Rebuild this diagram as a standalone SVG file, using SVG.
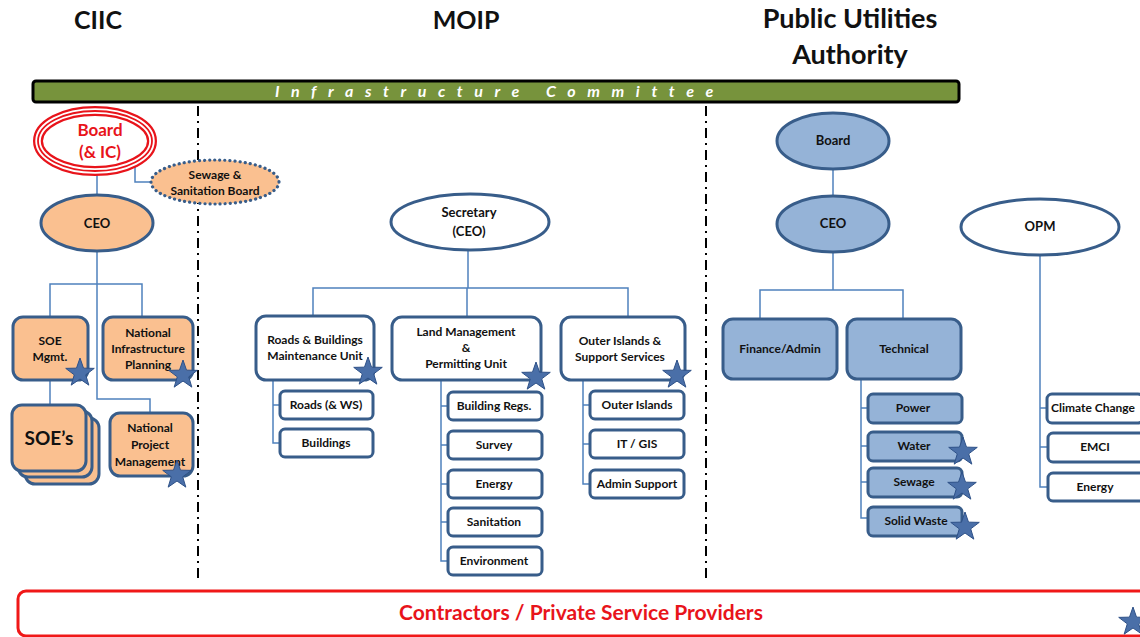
<svg xmlns="http://www.w3.org/2000/svg" width="1140" height="637" viewBox="0 0 1140 637">
<defs>
<style>
.t{font-family:Lato,"Liberation Sans",sans-serif;font-weight:bold;fill:#111;text-anchor:middle;}
.s12{font-size:12px;}
.s13{font-size:13px;}
.title{font-family:Lato,"Liberation Sans",sans-serif;font-weight:bold;font-size:25px;fill:#111;text-anchor:middle;}
.peach{fill:#FAC090;stroke:#385D8A;stroke-width:3;}
.blue{fill:#95B3D7;stroke:#385D8A;stroke-width:3;}
.white{fill:#fff;stroke:#385D8A;stroke-width:3;}
.conn{fill:none;stroke:#4F81BD;stroke-width:1.5;}
.div{fill:none;stroke:#000;stroke-width:2;stroke-dasharray:10 5 2 5;}
.star{fill:#4A6FA8;stroke:#2E5188;stroke-width:1;}
</style>
<polygon id="star" points="0,-15 3.53,-4.85 14.27,-4.64 5.71,1.85 8.82,12.14 0,6 -8.82,12.14 -5.71,1.85 -14.27,-4.64 -3.53,-4.85"/>
</defs>
<rect width="1140" height="637" fill="#fff"/>

<!-- titles -->
<text class="title" x="98" y="29">CIIC</text>
<text class="title" x="466" y="29">MOIP</text>
<text class="title" x="850" y="28" style="font-size:27px">Public Utilities</text>
<text class="title" x="850" y="64" style="font-size:27px">Authority</text>

<!-- committee bar -->
<g id="committee">
<rect x="33" y="81" width="926" height="21" rx="3" fill="#77933C" stroke="#000" stroke-width="3"/>
<text x="275" y="97" font-family="Lato,'Liberation Sans',sans-serif" font-weight="bold" font-style="italic" font-size="16" fill="#fff" letter-spacing="11.6">Infrastructure Committee</text>
</g>

<!-- dividers -->
<line class="div" x1="198" y1="106" x2="198" y2="580"/>
<line class="div" x1="706" y1="106" x2="706" y2="580"/>

<!-- connectors -->
<g id="connectors">
<path class="conn" d="M97,175 V195"/>
<path class="conn" d="M135,162 V182 H150"/>
<path class="conn" d="M97,252 V399 H150 V413"/>
<path class="conn" d="M50,317 V284 H142 V317"/>
<path class="conn" d="M50,380 V405"/>
<path class="conn" d="M468,250 V288"/>
<path class="conn" d="M313,316 V288 H628 V317"/>
<path class="conn" d="M467,288 V317"/>
<path class="conn" d="M273,380 V443 H280 M273,405 H280"/>
<path class="conn" d="M441,380 V561 H448 M441,406 H448 M441,445 H448 M441,484 H448 M441,522 H448"/>
<path class="conn" d="M583,380 V484 H590 M583,405 H590 M583,444 H590"/>
<path class="conn" d="M833,169 V196"/>
<path class="conn" d="M833,253 V290"/>
<path class="conn" d="M760,319 V290 H903 V319"/>
<path class="conn" d="M861,379 V518 H868 M861,408 H868 M861,446 H868 M861,482 H868"/>
<path class="conn" d="M1040,255 V487 H1047 M1040,408 H1047 M1040,447 H1047"/>
</g>

<!-- CIIC -->
<g id="ciic-board">
<ellipse cx="95" cy="141" rx="57" ry="30" fill="#fff" stroke="#E8141B" stroke-width="10"/>
<ellipse cx="95" cy="141" rx="57" ry="30" fill="none" stroke="#fff" stroke-width="5.5"/>
<ellipse cx="95" cy="141" rx="57" ry="30" fill="none" stroke="#E8141B" stroke-width="1.8"/>
<text class="t" x="100" y="136" font-size="17" style="fill:#E8141B">Board</text>
<text class="t" x="100" y="158" font-size="17" style="fill:#E8141B">(&amp; IC)</text>
</g>
<g id="sewage-board">
<ellipse cx="215" cy="182" rx="64" ry="22" fill="#FAC090" stroke="#385D8A" stroke-width="3.2" stroke-linecap="round" stroke-dasharray="0.1 5"/>
<text class="t s12" x="215" y="179">Sewage &amp;</text>
<text class="t s12" x="215" y="195">Sanitation Board</text>
</g>
<g id="ciic-ceo">
<ellipse class="peach" cx="97" cy="223" rx="56" ry="28"/>
<text class="t s13" x="97" y="228">CEO</text>
</g>
<g id="soe-mgmt">
<rect class="peach" x="13" y="317" width="75" height="63" rx="10"/>
<text class="t s12" x="50" y="345">SOE</text>
<text class="t s12" x="50" y="361">Mgmt.</text>
<use href="#star" class="star" x="80" y="373"/>
</g>
<g id="nip">
<rect class="peach" x="103" y="317" width="90" height="63" rx="10"/>
<text class="t s12" x="148" y="337">National</text>
<text class="t s12" x="148" y="353">Infrastructure</text>
<text class="t s12" x="148" y="369">Planning</text>
<use href="#star" class="star" x="183" y="375"/>
</g>
<g id="soes">
<rect class="peach" x="25" y="418" width="74" height="66" rx="10"/>
<rect class="peach" x="18" y="411" width="74" height="66" rx="10"/>
<rect class="peach" x="12" y="405" width="74" height="66" rx="10"/>
<text class="t" x="49" y="445" font-size="19">SOE’s</text>
</g>
<g id="npm">
<rect class="peach" x="110" y="413" width="83" height="63" rx="10"/>
<text class="t s12" x="150" y="432">National</text>
<text class="t s12" x="150" y="449">Project</text>
<text class="t s12" x="150" y="466">Management</text>
<use href="#star" class="star" x="177" y="475"/>
</g>

<!-- MOIP -->
<g id="secretary">
<ellipse class="white" cx="470" cy="222" rx="79" ry="28"/>
<text class="t s13" x="469" y="217">Secretary</text>
<text class="t s13" x="469" y="236">(CEO)</text>
</g>
<g id="roads-buildings">
<rect class="white" x="256" y="316" width="118" height="64" rx="10"/>
<text class="t s12" x="315" y="344">Roads &amp; Buildings</text>
<text class="t s12" x="315" y="360">Maintenance Unit</text>
<use href="#star" class="star" x="368" y="372"/>
</g>
<g id="land-mgmt">
<rect class="white" x="392" y="317" width="149" height="63" rx="10"/>
<text class="t s12" x="466" y="336">Land Management</text>
<text class="t s12" x="466" y="352">&amp;</text>
<text class="t s12" x="466" y="368">Permitting Unit</text>
<use href="#star" class="star" x="536" y="377"/>
</g>
<g id="outer-islands-ss">
<rect class="white" x="561" y="317" width="124" height="63" rx="10"/>
<text class="t s12" x="620" y="345">Outer Islands &amp;</text>
<text class="t s12" x="620" y="361">Support Services</text>
<use href="#star" class="star" x="677" y="375"/>
</g>
<g id="roads-ws"><rect class="white" x="280" y="391" width="93" height="28" rx="5"/><text class="t s12" x="326" y="409">Roads (&amp; WS)</text></g>
<g id="buildings"><rect class="white" x="280" y="429" width="93" height="28" rx="5"/><text class="t s12" x="326" y="447">Buildings</text></g>
<g id="building-regs"><rect class="white" x="448" y="392" width="94" height="28" rx="5"/><text class="t s12" x="494" y="410">Building Regs.</text></g>
<g id="survey"><rect class="white" x="448" y="431" width="94" height="28" rx="5"/><text class="t s12" x="494" y="449">Survey</text></g>
<g id="energy-moip"><rect class="white" x="448" y="470" width="94" height="28" rx="5"/><text class="t s12" x="494" y="488">Energy</text></g>
<g id="sanitation"><rect class="white" x="448" y="508" width="94" height="28" rx="5"/><text class="t s12" x="494" y="526">Sanitation</text></g>
<g id="environment"><rect class="white" x="448" y="547" width="94" height="28" rx="5"/><text class="t s12" x="494" y="565">Environment</text></g>
<g id="outer-islands"><rect class="white" x="590" y="391" width="94" height="28" rx="5"/><text class="t s12" x="637" y="409">Outer Islands</text></g>
<g id="it-gis"><rect class="white" x="590" y="430" width="94" height="28" rx="5"/><text class="t s12" x="637" y="448">IT / GIS</text></g>
<g id="admin-support"><rect class="white" x="590" y="470" width="94" height="28" rx="5"/><text class="t s12" x="637" y="488">Admin Support</text></g>

<!-- PUA -->
<g id="pua-board">
<ellipse class="blue" cx="833" cy="141" rx="56" ry="28"/>
<text class="t s13" x="833" y="145">Board</text>
</g>
<g id="pua-ceo">
<ellipse class="blue" cx="833" cy="224" rx="56" ry="28"/>
<text class="t s13" x="833" y="228">CEO</text>
</g>
<g id="finance-admin">
<rect class="blue" x="723" y="319" width="114" height="60" rx="10"/>
<text class="t s12" x="780" y="353">Finance/Admin</text>
</g>
<g id="technical">
<rect class="blue" x="847" y="319" width="114" height="60" rx="10"/>
<text class="t s12" x="904" y="353">Technical</text>
</g>
<g id="power"><rect class="blue" x="868" y="394" width="94" height="29" rx="5"/><text class="t s12" x="913" y="412">Power</text></g>
<g id="water"><rect class="blue" x="868" y="432" width="94" height="29" rx="5"/><text class="t s12" x="914" y="450">Water</text><use href="#star" class="star" x="963" y="452"/></g>
<g id="sewage"><rect class="blue" x="868" y="468" width="94" height="29" rx="5"/><text class="t s12" x="914" y="486">Sewage</text><use href="#star" class="star" x="962" y="487"/></g>
<g id="solid-waste"><rect class="blue" x="868" y="507" width="94" height="29" rx="5"/><text class="t s12" x="916" y="525">Solid Waste</text><use href="#star" class="star" x="965" y="527"/></g>

<!-- OPM -->
<g id="opm">
<ellipse class="white" cx="1040" cy="227" rx="79" ry="28"/>
<text class="t s13" x="1040" y="231">OPM</text>
</g>
<g id="climate-change"><rect class="white" x="1047" y="394" width="96" height="29" rx="5"/><text class="t s12" x="1093" y="412">Climate Change</text></g>
<g id="emci"><rect class="white" x="1048" y="433" width="96" height="29" rx="5"/><text class="t s12" x="1095" y="451">EMCI</text></g>
<g id="energy-opm"><rect class="white" x="1048" y="473" width="96" height="28" rx="5"/><text class="t s12" x="1095" y="491">Energy</text></g>

<!-- contractors -->
<g id="contractors">
<rect x="18" y="591" width="1130" height="45" rx="8" fill="#fff" stroke="#F01818" stroke-width="3"/>
<text class="t" x="581" y="620" font-size="21" style="fill:#E8141B">Contractors / Private Service Providers</text>
<use href="#star" class="star" x="1133" y="622"/>
</g>
</svg>
